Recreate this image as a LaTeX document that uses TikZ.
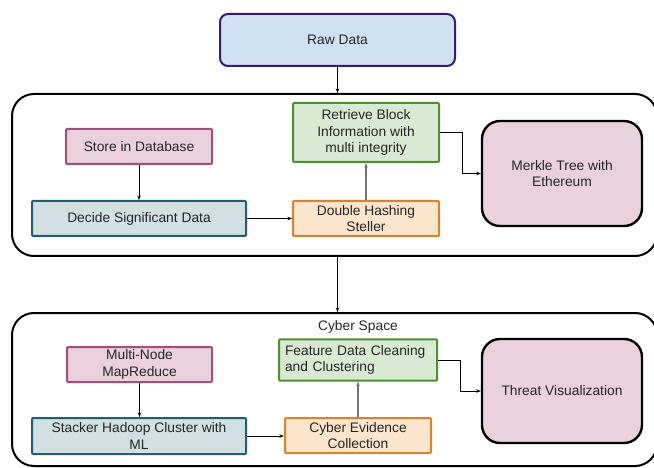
\documentclass[tikz,border=0pt]{standalone}
\usepackage{fontspec}
\setmainfont{Liberation Sans}
\usetikzlibrary{arrows.meta}
\definecolor{rawfill}{HTML}{CFE2F3}
\definecolor{rawdraw}{HTML}{351C75}
\definecolor{pinkfill}{HTML}{EAD1DC}
\definecolor{pinkdraw}{HTML}{A64D79}
\definecolor{tealfill}{HTML}{D0E0E3}
\definecolor{tealdraw}{HTML}{1F5F70}
\definecolor{orangefill}{HTML}{FCE5CD}
\definecolor{orangedraw}{HTML}{D9822B}
\definecolor{greenfill}{HTML}{D9EAD3}
\definecolor{greendraw}{HTML}{4E8F2F}
\tikzset{
  box/.style={rectangle, line width=2pt, align=center, inner sep=2pt,
    font=\fontsize{13.8}{16.5}\selectfont, text=black!85},
  rawbox/.style={box, draw=rawdraw, fill=rawfill, rounded corners=8pt},
  pinkbox/.style={box, draw=pinkdraw, fill=pinkfill, rounded corners=1pt},
  tealbox/.style={box, draw=tealdraw, fill=tealfill, rounded corners=1pt},
  orangebox/.style={box, draw=orangedraw, fill=orangefill, rounded corners=1pt},
  greenbox/.style={box, draw=greendraw, fill=greenfill, rounded corners=1pt},
  bigbox/.style={box, draw=black, fill=pinkfill, line width=2.4pt, rounded corners=18pt},
  outer/.style={rectangle, draw=black, line width=2pt, rounded corners=22pt, inner sep=0pt},
  conn/.style={line width=0.8pt, -{Stealth[length=4.5pt,width=3.5pt]}},
  gconn/.style={line width=1.3pt, draw=black!55, -{Stealth[length=4.5pt,width=3.5pt]}},
}
\begin{document}
\begin{tikzpicture}[x=1pt,y=-1pt]
\useasboundingbox (0,0) rectangle (654,468);
% outer containers
\node[outer, minimum width=645pt, minimum height=162pt] (outA) at (334.5,175) {};
\node[outer, minimum width=645pt, minimum height=153pt] (outB) at (334.5,389.5) {};
% top
\node[rawbox, minimum width=235pt, minimum height=52pt] (raw) at (337.5,40) {Raw Data};
% first container
\node[pinkbox, minimum width=146pt, minimum height=35pt] (store) at (139,146.5) {Store in Database};
\node[tealbox, minimum width=214pt, minimum height=35pt] (decide) at (139,218.5) {Decide Significant Data};
\node[orangebox, minimum width=146pt, minimum height=35pt] (dh) at (366,218.5) {Double Hashing\\Steller};
\node[greenbox, minimum width=146pt, minimum height=59pt] (ret) at (366,132.5) {Retrieve Block\\Information with\\multi integrity};
\node[bigbox, minimum width=160pt, minimum height=105pt] (merkle) at (562,173.5) {Merkle Tree with\\Ethereum};
% second container
\node[font=\fontsize{13.8}{16.5}\selectfont, text=black!85] (cs) at (358,327) {Cyber Space};
\node[pinkbox, minimum width=145pt, minimum height=35pt] (multi) at (139.5,364.5) {Multi-Node\\MapReduce};
\node[tealbox, minimum width=214pt, minimum height=36pt] (stack) at (139,436) {Stacker Hadoop Cluster with\\ML};
\node[orangebox, minimum width=146pt, minimum height=35pt] (ce) at (358,435.5) {Cyber Evidence\\Collection};
\node[greenbox, minimum height=40pt, text width=146pt, align=left, inner sep=6pt] (feat) at (358,360) {Feature Data Cleaning\\and Clustering};
\node[bigbox, minimum width=160pt, minimum height=104pt] (threat) at (562,391) {Threat Visualization};
% connectors
\draw[conn] (raw.south) -- (raw.south |- outA.north);
\draw[conn] (store.south) -- (decide.north);
\draw[conn] (decide.east) -- (dh.west);
\draw[gconn] (dh.north) -- (ret.south);
\draw[conn] (ret.east) -- ++(22,0) |- (merkle.west);
\draw[conn] (outA.south -| raw.south) -- (outB.north -| raw.south);
\draw[conn] (multi.south) -- (multi.south |- stack.north);
\draw[conn] (stack.east) -- (stack.east -| ce.west);
\draw[gconn] (ce.north) -- (feat.south);
\draw[conn] (feat.east) -- ++(22,0) |- (threat.west);
\end{tikzpicture}
\end{document}
